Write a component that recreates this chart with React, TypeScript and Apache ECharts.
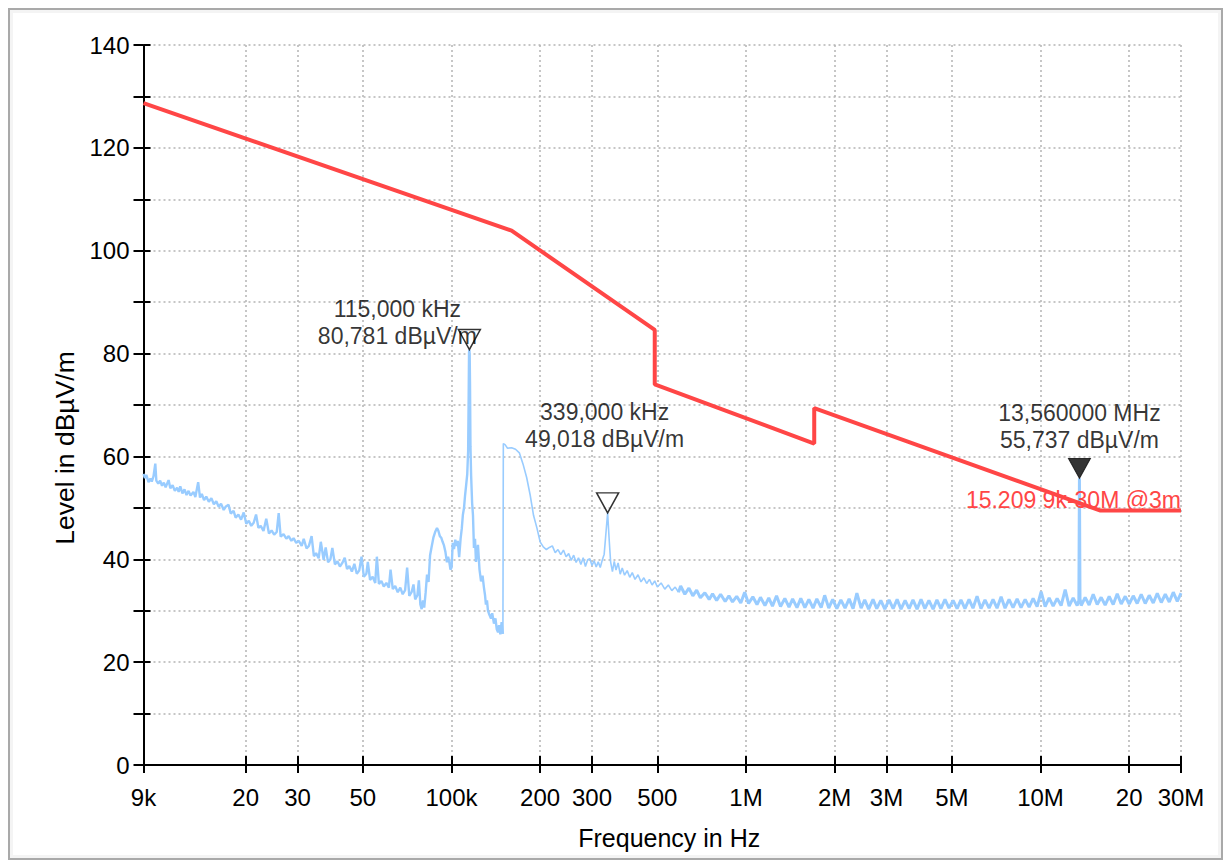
import React, { useEffect, useRef } from "react";
import * as echarts from "echarts";

// ---------- data ----------
const tickFreqKHz = [9, 20, 30, 50, 100, 200, 300, 500, 1000, 2000, 3000, 5000, 10000, 20000, 30000];
const tickLabels = ["9k", "20", "30", "50", "100k", "200", "300", "500", "1M", "2M", "3M", "5M", "10M", "20", "30M"];

const limitName = "15.209 9k-30M @3m";
const limitFreqKHz = [9, 160, 490, 490, 1705, 1705, 15900, 30000];
const limitLevel = [128.7, 103.9, 84.6, 74.0, 62.5, 69.4, 49.5, 49.5];

const markerFreqKHz = [115, 339, 13560];
const markerLevel = [80.781, 49.018, 55.737];
const markerFreqText = ["115,000 kHz", "339,000 kHz", "13,560000 MHz"];
const markerLevelText = ["80,781 dBµV/m", "49,018 dBµV/m", "55,737 dBµV/m"];
const markerFilled = [false, false, true];

// measured trace, 9 kHz – 150 kHz  [kHz, dBµV/m]
const traceLow: [number, number][] = [
  [9.0, 56.6], [9.1, 55.8], [9.2, 56.4], [9.36, 55.0], [9.5, 55.7], [9.6, 55.1], [9.73, 56.1], [9.87, 58.6], [9.95, 55.3],
  [10.1, 54.7], [10.25, 55.3], [10.4, 54.3], [10.55, 54.9], [10.7, 54.0], [10.95, 55.4], [11.1, 53.8], [11.3, 54.4],
  [11.5, 53.3], [11.7, 53.9], [11.85, 53.1], [12.0, 54.2], [12.2, 52.8], [12.4, 53.6], [12.6, 52.5], [12.8, 53.3],
  [13.0, 52.4], [13.3, 53.1], [13.5, 52.1], [13.8, 55.0], [14.0, 52.0], [14.2, 52.7], [14.45, 51.5], [14.7, 52.2],
  [15.0, 51.2], [15.3, 51.9], [15.6, 50.7], [15.9, 51.3], [16.2, 50.2], [16.5, 50.8], [16.85, 49.6], [17.1, 50.2],
  [17.5, 50.6], [17.8, 48.9], [18.2, 49.4], [18.5, 48.1], [18.9, 48.7], [19.3, 47.7], [19.7, 49.1], [20.1, 46.9],
  [20.5, 47.5], [20.9, 46.5], [21.3, 47.1], [21.7, 48.7], [22.1, 46.1], [22.5, 46.5], [23.0, 45.5], [23.5, 47.9],
  [24.0, 45.0], [24.5, 45.6], [25.0, 44.8], [25.5, 45.3], [25.9, 49.0], [26.3, 44.4], [26.9, 44.9], [27.5, 44.0],
  [28.0, 44.5], [28.6, 43.6], [29.1, 44.1], [29.7, 43.2], [30.3, 43.6], [31.0, 42.6], [31.5, 44.0], [32.2, 42.1],
  [32.8, 42.6], [33.5, 44.5], [34.1, 40.6], [34.7, 41.2], [35.4, 40.2], [36.0, 43.4], [36.8, 39.9], [37.4, 42.3],
  [38.1, 39.4], [38.8, 40.0], [39.4, 42.2], [40.2, 39.0], [41.0, 39.6], [41.8, 38.6], [42.6, 39.3], [43.4, 40.3],
  [44.2, 38.1], [45.0, 38.7], [45.9, 37.6], [46.8, 39.1], [47.7, 37.2], [48.6, 37.8], [49.5, 40.5], [50.4, 36.6],
  [51.4, 37.2], [52.0, 39.5], [52.9, 36.0], [54.0, 36.6], [55.1, 35.4], [55.8, 40.5], [56.7, 35.2], [57.8, 35.8],
  [58.9, 34.7], [60.1, 35.4], [61.3, 34.5], [62.1, 38.0], [63.2, 34.2], [64.4, 34.8], [65.7, 33.6], [67.0, 34.5],
  [68.3, 33.2], [69.6, 34.0], [70.7, 38.4], [71.9, 32.9], [73.2, 33.6], [74.3, 35.1], [75.3, 32.2], [76.6, 33.0],
  [77.5, 35.9], [78.4, 31.2], [79.2, 30.3], [80.0, 32.0], [80.8, 30.6], [81.7, 33.5], [82.6, 37.0], [83.6, 35.6],
  [84.6, 40.8], [85.6, 42.4], [86.8, 44.2], [88.0, 45.3], [89.3, 46.1], [90.3, 45.5], [91.3, 44.5], [92.3, 44.2],
  [93.3, 43.4], [94.3, 42.7], [95.4, 41.4], [96.5, 39.4], [97.4, 40.5], [98.3, 39.5], [99.2, 38.0], [100.1, 38.4],
  [101.0, 43.2], [102.0, 42.0], [103.0, 43.8], [104.0, 42.6], [105.0, 43.6], [106.2, 40.4], [107.4, 44.0],
  [108.4, 46.0], [109.3, 48.6], [110.3, 50.0], [111.2, 52.4], [112.2, 54.5], [113.1, 56.5], [113.9, 61.0],
  [114.4, 72.0], [114.7, 80.2], [115.0, 80.781], [115.3, 79.8], [115.6, 74.0], [116.0, 62.0], [116.6, 56.3],
  [117.5, 51.0], [118.3, 48.6], [119.2, 42.2], [120.2, 44.0], [121.1, 39.5], [122.0, 41.0], [123.0, 42.8],
  [124.5, 38.0], [126.0, 35.7], [127.5, 36.8], [128.9, 34.5], [130.0, 33.0], [130.9, 31.2], [132.0, 32.0],
  [133.0, 30.0], [134.5, 29.2], [136.2, 28.5], [137.5, 29.5], [139.4, 27.5], [141.0, 28.5], [142.5, 26.4],
  [143.9, 25.8], [145.0, 27.2], [146.5, 25.4], [148.0, 27.8], [149.5, 25.5],
];

// measured trace, 150 kHz – 600 kHz
const traceMid: [number, number][] = [
  [150, 62.5], [152, 62.3], [155, 61.6], [160, 61.7], [165, 61.4], [170, 60.7], [175, 58.5], [180, 55.9],
  [185, 52.5], [190, 48.5], [195, 46.1], [200, 43.4], [205, 42.4], [210, 41.9], [215, 42.3], [220, 42.6],
  [225, 41.3], [230, 41.9], [235, 40.9], [240, 41.8], [245, 40.5], [250, 41.1], [255, 39.8], [260, 40.8],
  [265, 39.4], [270, 40.3], [275, 39.0], [280, 40.3], [285, 38.6], [290, 39.9], [295, 40.1], [300, 38.8],
  [305, 39.7], [310, 38.5], [315, 39.5], [320, 38.4], [325, 39.8], [330, 41.0], [335, 45.5], [339, 49.018],
  [343, 44.0], [347, 39.5], [352, 37.6], [357, 39.6], [362, 37.9], [368, 39.3], [374, 37.1], [380, 38.3],
  [387, 36.9], [395, 37.8], [403, 36.5], [411, 37.4], [420, 36.1], [430, 37.0], [440, 35.6], [450, 36.4],
  [460, 35.3], [470, 36.1], [480, 35.0], [490, 35.8], [500, 34.6], [515, 35.4], [530, 34.2], [545, 35.0],
  [560, 33.9], [575, 34.6], [590, 33.6],
];

// measured trace, 600 kHz – 30 MHz
const traceHigh: [number, number][] = [
  [600, 34.8], [620, 33.2], [640, 34.4], [660, 32.9], [680, 34.0], [700, 32.5], [725, 33.5], [750, 32.2],
  [770, 33.3], [795, 32.0], [820, 33.2], [850, 31.8], [875, 32.9], [900, 31.7], [930, 32.8], [960, 31.5],
  [990, 33.6], [1020, 31.4], [1055, 32.7], [1090, 31.2], [1120, 32.6], [1160, 31.0], [1195, 32.5], [1230, 30.9],
  [1270, 32.9], [1310, 30.8], [1355, 32.4], [1400, 30.7], [1440, 32.3], [1490, 30.6], [1535, 32.4], [1585, 30.6],
  [1635, 32.2], [1690, 30.5], [1740, 32.3], [1800, 30.6], [1850, 33.0], [1910, 30.5], [1970, 32.2], [2035, 30.4],
  [2100, 32.1], [2170, 30.5], [2240, 32.3], [2310, 30.4], [2380, 33.4], [2460, 30.5], [2530, 32.1], [2610, 30.3],
  [2700, 32.2], [2780, 30.4], [2870, 32.0], [2960, 30.3], [3060, 32.1], [3160, 30.4], [3260, 32.2], [3360, 30.3],
  [3470, 32.0], [3580, 30.4], [3690, 32.1], [3810, 30.3], [3930, 32.2], [4050, 30.4], [4180, 32.0], [4320, 30.3],
  [4450, 32.1], [4590, 30.4], [4740, 32.2], [4890, 30.5], [5050, 32.0], [5210, 30.4], [5370, 32.1], [5540, 30.4],
  [5720, 32.2], [5900, 30.5], [6090, 32.8], [6280, 30.4], [6480, 32.1], [6690, 30.5], [6900, 32.2], [7120, 30.5],
  [7350, 32.7], [7580, 30.5], [7820, 32.2], [8070, 30.6], [8330, 32.3], [8590, 30.6], [8870, 32.2], [9150, 30.7],
  [9440, 32.4], [9740, 30.8], [10050, 33.7], [10370, 30.8], [10700, 32.5], [11040, 30.9], [11390, 32.4],
  [11750, 31.0], [12130, 34.1], [12510, 30.9], [12910, 32.5], [13320, 31.0], [13500, 32.0], [13560, 55.737],
  [13620, 32.3], [13750, 31.0], [14180, 32.6], [14630, 31.1], [15100, 33.2], [15580, 31.2], [16070, 32.6],
  [16580, 31.1], [17110, 32.8], [17660, 31.2], [18220, 33.3], [18800, 31.3], [19400, 32.8], [20010, 31.3],
  [20650, 32.9], [21300, 31.4], [21980, 33.2], [22680, 31.4], [23400, 33.0], [24150, 31.5], [24920, 33.4],
  [25710, 31.6], [26530, 33.2], [27370, 31.7], [28240, 33.6], [29140, 31.8], [30000, 33.4],
];

// ---------- component ----------
const FONT = '"Liberation Sans", Arial, Helvetica, sans-serif';
const TRACE_COLOR = "#99ccff";
const LIMIT_COLOR = "#ff4646";

export default function App() {
  const ref = useRef<HTMLDivElement>(null);

  useEffect(() => {
    if (!ref.current) return;
    const chart = echarts.init(ref.current, null, { renderer: "svg" });

    const xMin = Math.log10(tickFreqKHz[0]);
    const xMax = Math.log10(tickFreqKHz[tickFreqKHz.length - 1]);
    const tickLogs = tickFreqKHz.map((f) => Math.log10(f));
    const tickFmt = (v: number) => {
      const i = tickLogs.findIndex((t) => Math.abs(t - v) < 1e-7);
      return i >= 0 ? tickLabels[i] : "";
    };

    const gridLine = { show: true, lineStyle: { color: "#b4b4b4", width: 1.5, type: [2, 3] as any } };
    const axisBlack = { color: "#000", width: 2 };
    const markerLabelOffsets = [[-72, -17], [-3, -77], [0, -42]];

    // three pieces of one trace, joined at their shared end points
    const lowData = traceLow;
    const midData = [traceLow[traceLow.length - 1], ...traceMid];
    const highData = [traceMid[traceMid.length - 1], ...traceHigh];
    const limitData = limitFreqKHz.map((f, i) => [f, limitLevel[i]]);
    const lastIdx = limitFreqKHz.length - 1;

    const traceSeries = (data: any, width: number) => ({
      type: "line",
      name: "Measurement",
      xAxisIndex: 0,
      yAxisIndex: 0,
      data,
      showSymbol: false,
      symbol: "none",
      lineStyle: { color: TRACE_COLOR, width },
      z: 2,
    });

    const option: any = {
      animation: false,
      backgroundColor: "#ffffff",
      grid: { left: 130.5, right: 37, top: 32, bottom: 83, containLabel: false },
      xAxis: [
        { type: "log", logBase: 10, min: tickFreqKHz[0], max: tickFreqKHz[tickFreqKHz.length - 1], show: false },
        {
          type: "value",
          min: xMin,
          max: xMax,
          position: "bottom",
          axisLine: { show: true, onZero: false, lineStyle: axisBlack },
          axisTick: { show: true, length: 8, customValues: tickLogs, lineStyle: axisBlack },
          axisLabel: {
            customValues: tickLogs,
            formatter: tickFmt,
            fontSize: 24,
            color: "#000",
            fontFamily: FONT,
            margin: 20,
            hideOverlap: false,
          },
          splitLine: gridLine,
          name: "Frequency in Hz",
          nameLocation: "middle",
          nameGap: 60,
          nameTextStyle: { fontSize: 25, color: "#000", fontFamily: FONT, padding: [0, 0, 0, 14] },
        },
        {
          type: "value",
          min: xMin,
          max: xMax,
          position: "bottom",
          axisLine: { show: false },
          axisTick: { show: true, inside: true, length: 9, customValues: tickLogs, lineStyle: axisBlack },
          axisLabel: { show: false },
          splitLine: { show: false },
        },
      ],
      yAxis: [
        {
          type: "value",
          min: 0,
          max: 140,
          interval: 10,
          position: "left",
          axisLine: { show: true, onZero: false, lineStyle: axisBlack },
          axisTick: { show: true, length: 10, lineStyle: axisBlack },
          axisLabel: {
            formatter: (v: number) => (v % 20 === 0 ? String(v) : ""),
            fontSize: 24,
            color: "#000",
            fontFamily: FONT,
            margin: 14,
          },
          splitLine: gridLine,
          name: "Level in dBµV/m",
          nameLocation: "middle",
          nameGap: 63,
          nameTextStyle: { fontSize: 26.5, color: "#000", fontFamily: FONT, padding: [0, 86, 0, 0] },
        },
        {
          type: "value",
          min: 0,
          max: 140,
          interval: 10,
          position: "left",
          axisLine: { show: false },
          axisTick: { show: true, inside: true, length: 7, lineStyle: axisBlack },
          axisLabel: { show: false },
          splitLine: { show: false },
        },
      ],
      series: [
        traceSeries(lowData, 2.4),
        traceSeries(midData, 1.6),
        traceSeries(highData, 3),
        {
          type: "line",
          name: limitName,
          xAxisIndex: 0,
          yAxisIndex: 0,
          data: limitData,
          symbol: "none",
          lineStyle: { color: LIMIT_COLOR, width: 4 },
          z: 3,
          markPoint: {
            symbol: "circle",
            symbolSize: 1,
            itemStyle: { color: "rgba(0,0,0,0)" },
            data: [
              {
                coord: [limitFreqKHz[lastIdx], limitLevel[lastIdx]],
                label: {
                  show: true,
                  position: "inside",
                  align: "right",
                  verticalAlign: "middle",
                  offset: [0, -10],
                  formatter: limitName,
                  color: LIMIT_COLOR,
                  fontSize: 23,
                  fontFamily: FONT,
                },
              },
            ],
          },
        },
        {
          type: "scatter",
          name: "Markers",
          xAxisIndex: 0,
          yAxisIndex: 0,
          symbol: "triangle",
          symbolRotate: 180,
          symbolSize: [22, 20],
          symbolOffset: [0, -10],
          z: 5,
          data: markerFreqKHz.map((f, i) => ({
            value: [f, markerLevel[i]],
            itemStyle: markerFilled[i]
              ? { color: "#000", borderColor: "#000", borderWidth: 1 }
              : { color: "rgba(0,0,0,0)", borderColor: "#000", borderWidth: 1.5 },
            label: {
              show: true,
              position: "inside",
              align: "center",
              verticalAlign: "middle",
              offset: markerLabelOffsets[i],
              formatter: markerFreqText[i] + "\n" + markerLevelText[i],
              color: "#000",
              fontSize: 23,
              lineHeight: 27,
              fontFamily: FONT,
            },
          })),
        },
      ],
    };

    chart.setOption(option);
    return () => chart.dispose();
  }, []);

  return (
    <div
      style={{
        width: 1215,
        height: 852,
        boxSizing: "border-box",
        border: "2px solid #a9a9a9",
        padding: 3,
        background: "#f4f4f4",
      }}
    >
      <div ref={ref} style={{ width: 1205, height: 842, background: "#fff" }} />
    </div>
  );
}
